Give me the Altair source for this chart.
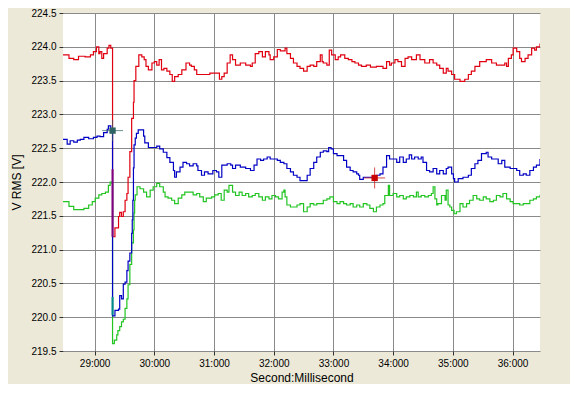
import altair as alt
import pandas as pd

# ---- data ----
red_t = [28.47, 28.57, 28.65, 28.73, 28.84, 28.93, 28.98, 29.03, 29.07, 29.09, 29.12, 29.15, 29.21, 29.24, 29.27,
         29.30, 29.34, 29.40, 29.42, 29.45, 29.48, 29.51, 29.54, 29.56, 29.59, 29.62, 29.65, 29.66, 29.69, 29.74,
         29.79, 29.83, 29.86, 29.90, 29.96, 30.00, 30.04, 30.08, 30.12, 30.16, 30.21, 30.26, 30.30, 30.34, 30.40,
         30.46, 30.53, 30.59, 30.62, 30.67, 30.71, 30.82, 30.93, 31.01, 31.09, 31.13, 31.17, 31.22, 31.27, 31.31,
         31.36, 31.44, 31.53, 31.61, 31.64, 31.69, 31.75, 31.81, 31.86, 31.92, 31.94, 32.00, 32.06, 32.11, 32.19,
         32.22, 32.28, 32.33, 32.39, 32.44, 32.50, 32.56, 32.61, 32.67, 32.72, 32.78, 32.81, 32.83, 32.89, 32.93,
         32.97, 33.03, 33.08, 33.12, 33.19, 33.25, 33.31, 33.36, 33.42, 33.47, 33.55, 33.62, 33.72, 33.83, 33.89,
         33.94, 33.97, 34.03, 34.08, 34.14, 34.20, 34.25, 34.31, 34.39, 34.45, 34.53, 34.61, 34.67, 34.73, 34.78,
         34.84, 34.89, 34.92, 34.98, 35.03, 35.12, 35.20, 35.26, 35.31, 35.37, 35.45, 35.56, 35.65, 35.73, 35.87,
         35.90, 35.93, 35.98, 36.01, 36.07, 36.12, 36.15, 36.21, 36.26, 36.32, 36.37, 36.40, 36.46]
red_v = [223.88, 223.83, 223.81, 223.86, 223.85, 223.88, 223.93, 224.00, 223.90, 223.93, 223.83, 223.90, 223.98, 224.02, 223.98,
         221.19, 221.32, 221.49, 221.55, 221.49, 221.56, 221.73, 221.83, 222.07, 222.45, 222.94, 223.18, 223.50, 223.71, 223.88,
         223.85, 223.81, 223.71, 223.66, 223.76, 223.78, 223.73, 223.81, 223.66, 223.68, 223.64, 223.59, 223.49, 223.56, 223.59,
         223.66, 223.76, 223.73, 223.71, 223.66, 223.59, 223.59, 223.61, 223.61, 223.52, 223.56, 223.61, 223.76, 223.88, 223.81,
         223.73, 223.76, 223.73, 223.71, 223.76, 223.90, 223.93, 223.85, 223.93, 223.88, 223.81, 223.85, 223.96, 223.94, 223.98,
         223.90, 223.83, 223.76, 223.71, 223.68, 223.64, 223.71, 223.73, 223.71, 223.78, 223.88, 223.78, 223.76, 223.73, 223.95,
         223.88, 223.81, 223.85, 223.88, 223.83, 223.81, 223.78, 223.76, 223.73, 223.71, 223.73, 223.70, 223.71, 223.68, 223.78,
         223.73, 223.76, 223.81, 223.78, 223.71, 223.83, 223.85, 223.81, 223.88, 223.81, 223.76, 223.81, 223.76, 223.73, 223.68,
         223.61, 223.68, 223.64, 223.59, 223.52, 223.49, 223.52, 223.59, 223.64, 223.71, 223.78, 223.81, 223.76, 223.73, 223.76,
         223.71, 223.83, 223.88, 223.98, 223.93, 223.83, 223.78, 223.83, 223.88, 223.98, 223.95, 224.00, 224.05]

blue_t = [28.47, 28.54, 28.59, 28.65, 28.71, 28.76, 28.82, 28.90, 28.98, 29.04, 29.09, 29.15, 29.21, 29.23, 29.27,
          29.29, 29.30, 29.34, 29.40, 29.42, 29.45, 29.48, 29.51, 29.54, 29.56, 29.59, 29.62, 29.63, 29.64, 29.65,
          29.66, 29.68, 29.70, 29.73, 29.76, 29.82, 29.84, 29.90, 29.98, 30.04, 30.09, 30.15, 30.21, 30.26, 30.32,
          30.34, 30.37, 30.43, 30.48, 30.54, 30.59, 30.65, 30.71, 30.73, 30.79, 30.84, 30.90, 30.98, 31.04, 31.08,
          31.13, 31.22, 31.28, 31.31, 31.36, 31.44, 31.53, 31.61, 31.67, 31.72, 31.78, 31.83, 31.89, 31.94, 32.06,
          32.11, 32.17, 32.22, 32.28, 32.33, 32.39, 32.44, 32.56, 32.61, 32.67, 32.72, 32.78, 32.83, 32.89, 32.92,
          32.96, 33.00, 33.06, 33.17, 33.22, 33.28, 33.33, 33.39, 33.42, 33.44, 33.50, 33.72, 33.78, 33.83, 33.89,
          33.94, 34.06, 34.11, 34.17, 34.22, 34.27, 34.31, 34.36, 34.42, 34.47, 34.50, 34.56, 34.61, 34.67, 34.73,
          34.78, 34.84, 34.89, 34.92, 34.98, 35.01, 35.03, 35.09, 35.17, 35.26, 35.31, 35.37, 35.42, 35.48, 35.56,
          35.59, 35.65, 35.76, 35.82, 35.87, 35.96, 36.07, 36.12, 36.18, 36.23, 36.29, 36.35, 36.40, 36.46]
blue_v = [222.63, 222.56, 222.61, 222.59, 222.62, 222.63, 222.66, 222.64, 222.66, 222.68, 222.67, 222.73, 222.78, 222.83, 222.79,
          222.77, 220.02, 220.10, 220.12, 220.32, 220.27, 220.49, 220.52, 220.69, 220.83, 220.95, 221.24, 221.44, 221.73, 222.21,
          222.55, 222.65, 222.72, 222.77, 222.77, 222.68, 222.58, 222.51, 222.51, 222.53, 222.49, 222.44, 222.36, 222.29, 222.17,
          222.07, 222.15, 222.22, 222.29, 222.27, 222.24, 222.27, 222.24, 222.17, 222.10, 222.15, 222.12, 222.17, 222.15, 222.07,
          222.25, 222.27, 222.25, 222.20, 222.25, 222.22, 222.20, 222.17, 222.25, 222.34, 222.32, 222.34, 222.37, 222.34, 222.32,
          222.29, 222.27, 222.20, 222.15, 222.10, 222.07, 222.02, 222.10, 222.20, 222.29, 222.37, 222.44, 222.46, 222.45, 222.51,
          222.49, 222.42, 222.39, 222.32, 222.22, 222.17, 222.15, 222.12, 222.10, 222.04, 222.07, 222.10, 222.12, 222.22, 222.39,
          222.34, 222.29, 222.37, 222.29, 222.34, 222.40, 222.34, 222.37, 222.34, 222.37, 222.29, 222.17, 222.15, 222.20, 222.12,
          222.17, 222.12, 222.20, 222.22, 222.12, 222.05, 222.00, 222.05, 222.07, 222.10, 222.20, 222.27, 222.32, 222.42, 222.44,
          222.37, 222.34, 222.27, 222.32, 222.22, 222.20, 222.17, 222.10, 222.12, 222.10, 222.17, 222.22, 222.25, 222.34]

green_t = [28.47, 28.57, 28.65, 28.73, 28.82, 28.90, 28.96, 29.01, 29.07, 29.12, 29.18, 29.23, 29.26, 29.29,
           29.30, 29.33, 29.37, 29.39, 29.42, 29.45, 29.48, 29.51, 29.54, 29.56, 29.59, 29.62, 29.65, 29.66, 29.67,
           29.68, 29.71, 29.76, 29.82, 29.87, 29.93, 29.98, 30.04, 30.09, 30.15, 30.18, 30.23, 30.29, 30.34, 30.40,
           30.46, 30.51, 30.65, 30.71, 30.76, 30.82, 30.87, 30.96, 31.01, 31.07, 31.12, 31.17, 31.22, 31.25, 31.31,
           31.36, 31.42, 31.47, 31.53, 31.58, 31.64, 31.69, 31.75, 31.81, 31.86, 31.92, 31.97, 32.03, 32.08, 32.14,
           32.17, 32.19, 32.22, 32.28, 32.39, 32.44, 32.50, 32.56, 32.61, 32.67, 32.72, 32.83, 32.89, 32.94, 33.00,
           33.06, 33.11, 33.17, 33.22, 33.28, 33.33, 33.39, 33.44, 33.50, 33.56, 33.61, 33.67, 33.72, 33.78, 33.83,
           33.86, 33.92, 33.94, 34.00, 34.06, 34.11, 34.17, 34.22, 34.28, 34.34, 34.39, 34.42, 34.47, 34.53, 34.59,
           34.64, 34.67, 34.70, 34.73, 34.75, 34.81, 34.87, 34.89, 34.92, 34.95, 34.98, 35.02, 35.06, 35.12, 35.17,
           35.23, 35.28, 35.34, 35.40, 35.45, 35.51, 35.56, 35.62, 35.68, 35.73, 35.79, 35.84, 35.90, 35.96, 36.01,
           36.12, 36.18, 36.29, 36.35, 36.40, 36.46]
green_v = [221.71, 221.64, 221.59, 221.59, 221.61, 221.66, 221.71, 221.76, 221.81, 221.83, 221.85, 221.95, 222.00, 221.98,
           219.61, 219.66, 219.74, 219.80, 219.86, 219.93, 219.97, 220.13, 220.27, 220.48, 220.78, 221.10, 221.29, 221.54, 221.73,
           221.81, 221.93, 221.90, 221.85, 221.78, 221.88, 221.93, 221.98, 221.93, 221.85, 221.78, 221.76, 221.73, 221.68, 221.76,
           221.81, 221.85, 221.81, 221.83, 221.78, 221.71, 221.76, 221.78, 221.81, 221.83, 221.73, 221.88, 221.85, 221.95, 221.85,
           221.80, 221.85, 221.80, 221.83, 221.78, 221.80, 221.83, 221.78, 221.73, 221.78, 221.75, 221.80, 221.78, 221.75, 221.85,
           221.88, 221.78, 221.66, 221.63, 221.66, 221.68, 221.56, 221.63, 221.68, 221.66, 221.68, 221.73, 221.75, 221.78, 221.71,
           221.68, 221.71, 221.68, 221.66, 221.68, 221.63, 221.66, 221.63, 221.68, 221.66, 221.61, 221.56, 221.63, 221.66, 221.68,
           221.80, 221.95, 221.80, 221.83, 221.78, 221.80, 221.75, 221.78, 221.80, 221.78, 221.85, 221.78, 221.80, 221.78, 221.80,
           221.83, 221.93, 221.75, 221.66, 221.68, 221.80, 221.73, 221.88, 221.66, 221.63, 221.58, 221.53, 221.56, 221.68, 221.63,
           221.68, 221.73, 221.80, 221.75, 221.73, 221.78, 221.75, 221.71, 221.73, 221.80, 221.78, 221.83, 221.75, 221.71, 221.68,
           221.66, 221.68, 221.73, 221.75, 221.78, 221.81]

# highlighted segments on the drop at the event
seg_t = [29.30, 29.30]
seg_v1 = [221.19, 220.03]
seg_v2 = [222.19, 220.30]
seg_c = ["#800080", "#008b8b"]

# cursor markers
mk_t = [29.30, 33.69]
mk_v = [222.76, 222.06]
mk_c = ["#2f6262", "#c80000"]

x_ticks = [29, 30, 31, 32, 33, 34, 35, 36]
y_ticks = [219.5, 220.0, 220.5, 221.0, 221.5, 222.0, 222.5, 223.0, 223.5, 224.0, 224.5]
x_domain = [28.47, 36.46]
y_domain = [219.5, 224.5]

FONT = "Liberation Sans"

xs = alt.Scale(domain=x_domain, nice=False, zero=False)
ys = alt.Scale(domain=y_domain, nice=False, zero=False)

x_axis = alt.Axis(values=x_ticks, tickCount=len(x_ticks), labelExpr="datum.value + ':000'",
                  title="Second:Millisecond",
                  grid=True, gridColor="#8a8a8a", gridWidth=1, domain=False, labelOverlap=False,
                  tickSize=4, tickColor="#303030", labelFont=FONT, labelFontSize=10,
                  labelColor="#000000", labelPadding=3, titleFont=FONT, titleFontSize=12,
                  titleFontWeight="normal", titleColor="#000000", titlePadding=4)
y_axis = alt.Axis(values=y_ticks, tickCount=len(y_ticks), format=".1f", title="V RMS [V]",
                  grid=True, gridColor="#8a8a8a", gridWidth=1, domain=False, labelOverlap=False,
                  labelFlush=False, tickSize=4, tickColor="#303030", labelFont=FONT, labelFontSize=10,
                  labelColor="#000000", labelPadding=3, titleFont=FONT, titleFontSize=12,
                  titleFontWeight="normal", titleColor="#000000", titlePadding=7)


def series(ts, vs, color):
    df = pd.DataFrame({"t": ts, "v": vs})
    return alt.Chart(df).mark_line(interpolate="step-after", color=color, strokeWidth=1.2, clip=True).encode(
        x=alt.X("t:Q", scale=xs, axis=x_axis),
        y=alt.Y("v:Q", scale=ys, axis=y_axis),
    )


red = series(red_t, red_v, "#e00010")
green = series(green_t, green_v, "#22c422")
blue = series(blue_t, blue_v, "#0000c4")

seg_df = pd.DataFrame({"t": seg_t, "v1": seg_v1, "v2": seg_v2, "c": seg_c})
segs = alt.Chart(seg_df).mark_rule(strokeWidth=2).encode(
    x=alt.X("t:Q", scale=xs, axis=x_axis), y=alt.Y("v1:Q", scale=ys, axis=y_axis), y2="v2:Q",
    color=alt.Color("c:N", scale=None),
)

mk_df = pd.DataFrame({"t": mk_t, "v": mk_v, "c": mk_c})
cross = alt.Chart(mk_df).mark_point(shape="M-1,0H1M0,-1V1", size=440, filled=False, strokeWidth=1).encode(
    x=alt.X("t:Q", scale=xs, axis=x_axis), y=alt.Y("v:Q", scale=ys, axis=y_axis),
    color=alt.Color("c:N", scale=None),
)
squares = alt.Chart(mk_df).mark_square(size=40, opacity=1).encode(
    x=alt.X("t:Q", scale=xs, axis=x_axis), y=alt.Y("v:Q", scale=ys, axis=y_axis),
    color=alt.Color("c:N", scale=None),
)

chart = alt.layer(red, green, blue, segs, cross, squares).properties(
    width=477, height=338,
    autosize=alt.AutoSizeParams(type="none"),
    padding={"left": 55, "top": 5, "right": 30, "bottom": 33},
    background="#ece9d8",
).configure_view(fill="#ffffff", strokeWidth=0)

chart.save("out.html", embed_options={"renderer": "svg", "actions": False})
